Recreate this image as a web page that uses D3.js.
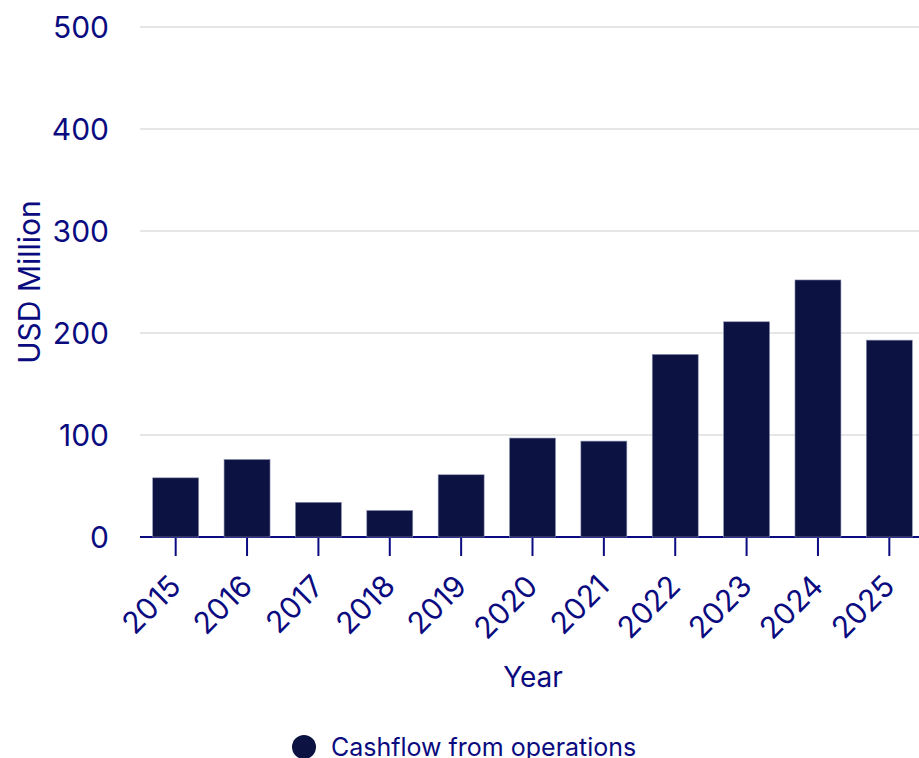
<!DOCTYPE html>
<html>
<head>
<meta charset="utf-8">
<script src="https://cdn.jsdelivr.net/npm/d3@7"></script>
<style>
  body { margin: 0; background: #fff; }
  svg { display: block; }
  svg text { font-family: Inter, "Noto Sans", sans-serif; }
</style>
</head>
<body>
<svg id="chart"></svg>
<script>
// data
const years = ['2015', '2016', '2017', '2018', '2019', '2020', '2021', '2022', '2023', '2024', '2025'];
const cashflow = [58, 76, 34, 26, 61, 97, 94, 179, 211, 252, 193];
const yTicks = [0, 100, 200, 300, 400, 500];
const seriesName = 'Cashflow from operations';

const width = 919;
const height = 758;
const margin = {top: 27, left: 140};
const innerW = 785;          // band range runs a little past the right edge
const innerH = 510;
const gridW = width - margin.left;

const textColor = '#0b0b80';
const barColor = '#0c1242';
const fontFamily = 'Inter, "Noto Sans", sans-serif';

const svg = d3.select('#chart')
    .attr('width', width)
    .attr('height', height);

const chart = svg.append('g')
    .attr('transform', `translate(${margin.left}, ${margin.top})`);

const x = d3.scaleBand()
    .domain(years)
    .range([0, innerW])
    .paddingInner(0.356)
    .paddingOuter(0.178);

const y = d3.scaleLinear()
    .domain([0, 500])
    .range([innerH, 0]);

// gridlines
chart.append('g')
    .selectAll('line')
    .data(yTicks.filter(d => d > 0))
    .enter()
    .append('line')
    .attr('x1', 0)
    .attr('x2', gridW)
    .attr('y1', d => y(d))
    .attr('y2', d => y(d))
    .attr('stroke', '#e6e6e6')
    .attr('stroke-width', 2);

// y axis labels
const yaxis = d3.axisLeft(y)
    .tickValues(yTicks)
    .tickSize(0)
    .tickPadding(31);

const yg = chart.append('g').call(yaxis)
    .attr('font-family', fontFamily);
yg.select('.domain').remove();
yg.selectAll('text')
    .attr('fill', textColor)
    .style('font-size', '30px')
    .attr('dy', '0.36em');

// x axis
const xaxis = d3.axisBottom(x)
    .tickSize(19)
    .tickSizeOuter(0);

const xg = chart.append('g')
    .attr('transform', `translate(0, ${innerH})`)
    .call(xaxis)
    .attr('font-family', fontFamily);
xg.select('.domain')
    .attr('d', `M0,0H${gridW}`)
    .attr('stroke', textColor)
    .attr('stroke-width', 2);
xg.selectAll('.tick line').attr('stroke', textColor).attr('stroke-width', 2);
xg.selectAll('text')
    .attr('fill', textColor)
    .style('font-size', '30px')
    .attr('text-anchor', 'end')
    .attr('x', 0)
    .attr('y', 0)
    .attr('dy', 0)
    .attr('transform', 'translate(7, 51) rotate(-45)');

// bars
chart.append('g')
    .selectAll('rect')
    .data(cashflow)
    .enter()
    .append('rect')
    .attr('x', (d, i) => x(years[i]))
    .attr('y', d => y(d))
    .attr('width', x.bandwidth())
    .attr('height', d => innerH - y(d))
    .attr('fill', barColor)
    .attr('stroke', '#8a8fb0')
    .attr('stroke-width', 0.6);

// axis titles
svg.append('text')
    .attr('transform', `translate(40, ${margin.top + innerH / 2}) rotate(-90)`)
    .attr('text-anchor', 'middle')
    .attr('fill', textColor)
    .style('font-size', '30px')
    .text('USD Million');

svg.append('text')
    .attr('x', 533)
    .attr('y', 687)
    .attr('text-anchor', 'middle')
    .attr('fill', textColor)
    .style('font-size', '28px')
    .text('Year');

// legend
const legend = svg.append('g');
legend.append('circle')
    .attr('cx', 304)
    .attr('cy', 747)
    .attr('r', 12)
    .attr('fill', barColor);
legend.append('text')
    .attr('x', 331)
    .attr('y', 756)
    .attr('fill', textColor)
    .style('font-size', '25px')
    .text(seriesName);
</script>
</body>
</html>
